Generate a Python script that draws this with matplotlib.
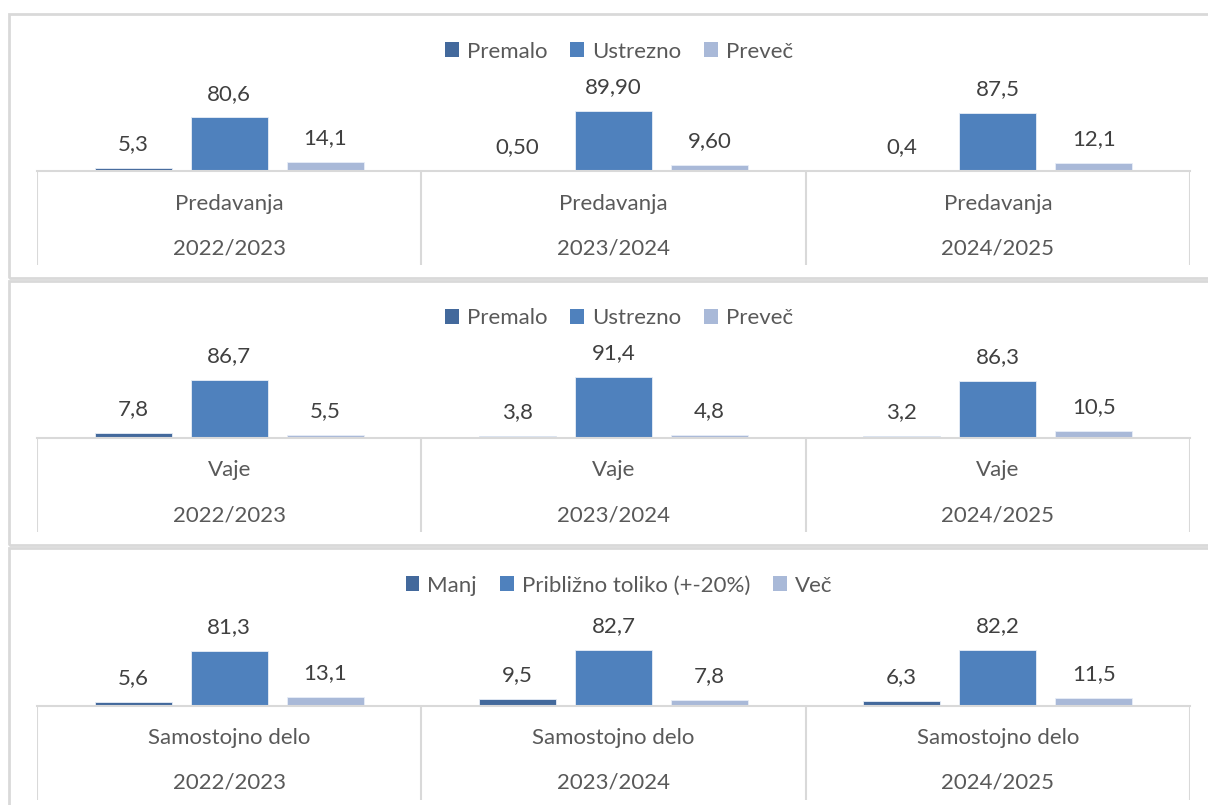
import matplotlib
matplotlib.use("Agg")
import matplotlib.pyplot as plt
from matplotlib.patches import Rectangle, Patch

# podatki
years = ['2022/2023', '2023/2024', '2024/2025']
categories = ['Predavanja', 'Vaje', 'Samostojno delo']

legend_pred = ['Premalo', 'Ustrezno', 'Preveč']
legend_vaje = ['Premalo', 'Ustrezno', 'Preveč']
legend_samo = ['Manj', 'Približno toliko (+-20%)', 'Več']

pred_low = [5.3, 0.50, 0.4]
pred_ok = [80.6, 89.90, 87.5]
pred_high = [14.1, 9.60, 12.1]
pred_dec = [1, 2, 1]

vaje_low = [7.8, 3.8, 3.2]
vaje_ok = [86.7, 91.4, 86.3]
vaje_high = [5.5, 4.8, 10.5]
vaje_dec = [1, 1, 1]

samo_low = [5.6, 9.5, 6.3]
samo_ok = [81.3, 82.7, 82.2]
samo_high = [13.1, 7.8, 11.5]
samo_dec = [1, 1, 1]

colors = ['#43699c', '#4f81bd', '#a9b9d8']
grid_c = '#d9d9d9'
text_c = '#595959'

W, H = 1208, 805
plt.rcParams['font.family'] = ['Lato', 'DejaVu Sans']
fig = plt.figure(figsize=(W / 100, H / 100), dpi=100)

px_unit = 0.67   # piksli na enoto
below = 94       # koliko pikslov pod osjo gre tabela kategorij
fs = 16


def fx(x):
    return x / W


def fy(y):
    return 1 - y / H


def panel(top, bottom, category, legend_labels, low, ok, high, dec):
    # okvir
    fig.patches.append(Rectangle((fx(8.5), fy(bottom)), fx(1220 - 8.5), fy(top) - fy(bottom),
                                 transform=fig.transFigure, fill=False,
                                 edgecolor=grid_c, lw=2))
    base = top + 157.5
    ax = fig.add_axes([fx(37), fy(base + below), fx(1190 - 37), (67 + below) / H])
    ax.set_xlim(-0.5, 2.5)
    ax.set_ylim(-below / px_unit, 67 / px_unit)
    ax.axis('off')

    series = [low, ok, high]
    for i, vals in enumerate(series):
        xs = [k + (i - 1) * 0.25 for k in range(len(years))]
        ax.bar(xs, vals, width=0.2, color=colors[i], edgecolor='#e8eef7', linewidth=0.6)
        for x, v, d in zip(xs, vals, dec):
            lab = ('{:.%df}' % d).format(v).replace('.', ',')
            ax.annotate(lab, (x, v), xytext=(0, 10), textcoords='offset points',
                        ha='center', va='bottom', fontsize=fs, color='#404040')

    ax.plot([-0.5, 2.5], [0, 0], color=grid_c, lw=1.5, clip_on=False)
    ax.vlines([-0.5, 0.5, 1.5, 2.5], -below / px_unit, 0, color=grid_c, lw=1.5)
    for k, yr in enumerate(years):
        ax.text(k, -32 / px_unit, category, ha='center', va='center', fontsize=fs, color=text_c)
        ax.text(k, -77 / px_unit, yr, ha='center', va='center', fontsize=fs, color=text_c)

    handles = [Patch(facecolor=c, edgecolor='none') for c in colors]
    fig.legend(handles, legend_labels, loc='center', ncol=3, frameon=False,
               bbox_to_anchor=(fx(619), fy(top + 37.5)), fontsize=fs,
               handlelength=0.62, handleheight=0.62, handletextpad=0.35,
               columnspacing=1.05, labelcolor=text_c)


panel(14, 277.5, categories[0], legend_pred, pred_low, pred_ok, pred_high, pred_dec)
panel(281, 545, categories[1], legend_vaje, vaje_low, vaje_ok, vaje_high, vaje_dec)
panel(548, 820, categories[2], legend_samo, samo_low, samo_ok, samo_high, samo_dec)

fig.savefig('out.png', dpi=100)
